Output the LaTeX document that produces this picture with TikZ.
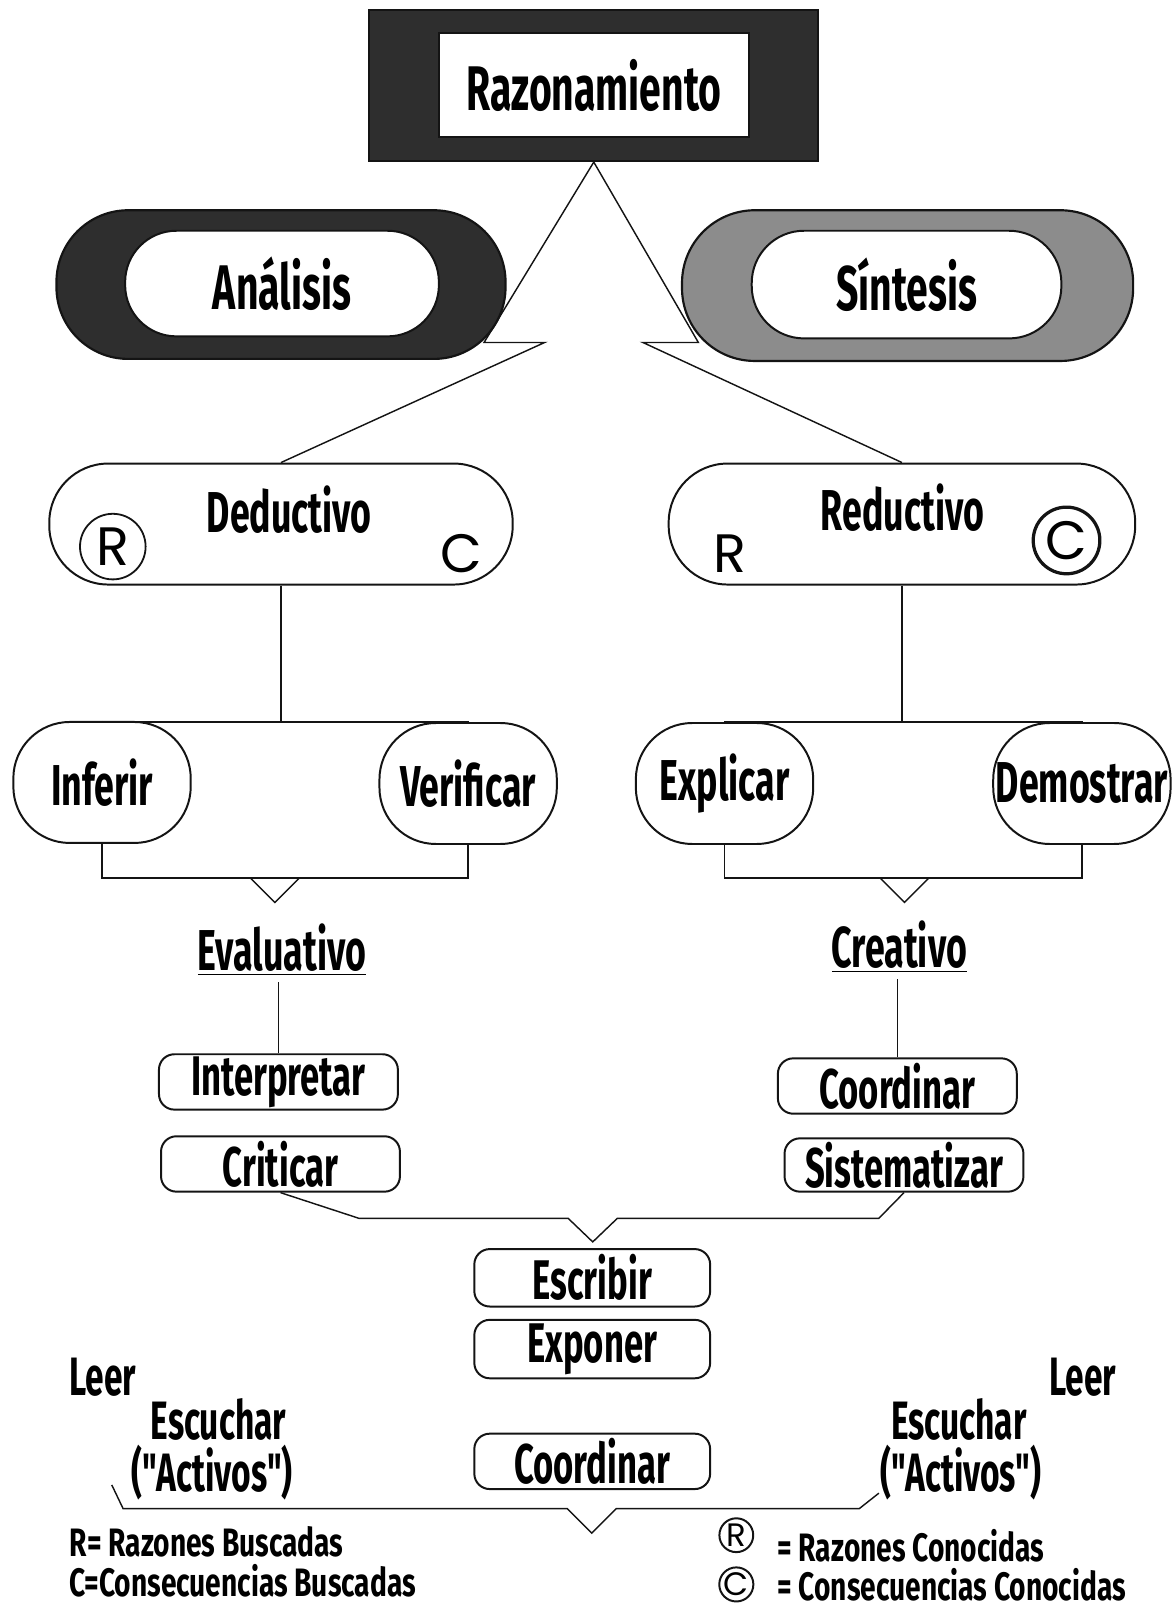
\documentclass[tikz,border=0pt]{standalone}
\usepackage{fontspec}
\setmainfont{Fira Sans}
\newfontfamily\condfont[FakeStretch=0.62]{Fira Sans}
\newfontfamily\legfont[FakeStretch=0.71]{Fira Sans}
\newfontfamily\letfont{Poppins}
\usetikzlibrary{calc}
\definecolor{inkblack}{HTML}{141414}
\definecolor{darkrim}{HTML}{2E2E2E}
\definecolor{greyrim}{HTML}{8C8C8C}

\newcommand\bigtxt{\condfont\bfseries\fontsize{35}{38}\selectfont}
\newcommand\midtxt{\condfont\bfseries\fontsize{32}{34}\selectfont}
\newcommand\pilltxt{\condfont\bfseries\fontsize{31}{33}\selectfont}
\newcommand\sidetxt{\condfont\bfseries\fontsize{30}{32}\selectfont}
\newcommand\smltxt{\legfont\bfseries\fontsize{22}{24}\selectfont}
\newcommand\lettxt{\letfont\fontsize{30}{32}\selectfont}

\tikzset{
  rim/.style={draw=inkblack, line width=1.2pt, inner sep=0pt},
  stadium/.style={draw=inkblack, line width=1.1pt, fill=white, inner sep=0pt},
  bulb/.style={stadium, minimum width=3.46cm, minimum height=2.36cm, rounded corners=1.1cm, font=\midtxt},
  pill/.style={stadium, minimum width=4.66cm, minimum height=1.08cm, rounded corners=0.3cm, font=\pilltxt},
  ring/.style={circle, draw=inkblack, inner sep=0pt, font=\lettxt},
  conn/.style={draw=inkblack, line width=0.8pt}
}

\begin{document}
\begin{tikzpicture}[x=0.02cm, y=-0.02cm]
\useasboundingbox (0,0) rectangle (1143,1568);

% Title block (Razonamiento)
\node[rim, fill=darkrim, minimum width=8.76cm, minimum height=2.94cm] (razon) at (579,83.5) {};
\node[stadium, minimum width=6.04cm, minimum height=2.04cm, font=\bigtxt] (razontxt) at (579,83) {Razonamiento};

% Analisis and Sintesis
\node[rim, fill=darkrim, minimum width=8.76cm, minimum height=2.90cm, rounded corners=1.4cm] (anal) at (274,277.5) {};
\node[stadium, minimum width=6.12cm, minimum height=2.06cm, rounded corners=1cm, font=\bigtxt] (analtxt) at (275,276.5) {Análisis};
\node[rim, fill=greyrim, minimum width=8.8cm, minimum height=2.94cm, rounded corners=1.42cm] (sint) at (885,278.5) {};
\node[stadium, minimum width=6.04cm, minimum height=2.10cm, rounded corners=1.02cm, font=\bigtxt] (sinttxt) at (884,277.5) {Síntesis};

% Deductivo and Reductivo
\node[stadium, minimum width=9.04cm, minimum height=2.36cm, rounded corners=1.15cm] (deduct) at (274,511) {};
\node[font=\midtxt] (deducttxt) at (282,497) {Deductivo};
\node[ring, line width=1pt, minimum size=1.28cm] (dedR) at (110,533) {R};
\node[font=\lettxt] (dedC) at (450,540) {C};
\node[stadium, minimum width=9.1cm, minimum height=2.36cm, rounded corners=1.15cm] (reduct) at (879.5,511) {};
\node[font=\midtxt] (reducttxt) at (880,495) {Reductivo};
\node[font=\lettxt] (redR) at (712,540) {R};
\node[ring, line width=1.8pt, minimum size=1.3cm] (redC) at (1040,527) {C};

% Lines from Razonamiento
\coordinate (kinkL) at (472,334);
\coordinate (kinkLb) at (531,334);
\coordinate (kinkR) at (681,334);
\coordinate (kinkRb) at (627,334);
\draw[conn] (razon.south) -- (kinkL) -- (kinkLb) -- (deduct.north);
\draw[conn] (razon.south) -- (kinkR) -- (kinkRb) -- (reduct.north);

% Four actions
\node[bulb] (inferir) at (99.5,763) {Inferir};
\node[bulb] (verif) at (456.5,764) {Verificar};
\node[bulb] (explic) at (706.5,764) {Explicar};
\node[bulb] (demos) at (1055,764) {Demostrar};

% Brackets
\draw[conn] (deduct.south) -- ++(0,133) coordinate (dedJ);
\draw[conn] (inferir.north) |- (dedJ) -| (verif.north);
\draw[conn] (reduct.south) -- ++(0,133) coordinate (redJ);
\draw[conn] (explic.north) |- (redJ) -| (demos.north);
\coordinate (evJ) at (268,856);
\coordinate (crJ) at (882,856);
\draw[conn] (inferir.south) |- (evJ) -| (verif.south);
\draw[conn] (explic.south) |- (crJ) -| (demos.south);
\draw[conn] ($(evJ)+(-24,0)$) -- ++(24,24) -- ++(24,-24);
\draw[conn] ($(crJ)+(-24,0)$) -- ++(24,24) -- ++(24,-24);

% Evaluativo and Creativo
\node[font=\midtxt] (evalu) at (275,926) {\underline{Evaluativo}};
\node[font=\midtxt] (creat) at (877,923) {\underline{Creativo}};

% Pills
\node[pill] (interp) at (271.5,1055) {Interpretar};
\node[pill] (critic) at (273.5,1135) {Criticar};
\node[pill] (coordA) at (875,1059) {Coordinar};
\node[pill, minimum height=1.04cm] (sistem) at (881.5,1136) {Sistematizar};
\draw[conn] (interp.north) -- (interp.north |- evalu.south);
\draw[conn] (coordA.north) -- (coordA.north |- creat.south);

% Merge into Escribir
\coordinate (mjL) at (350,1188);
\coordinate (mjR) at (857,1188);
\coordinate (mV) at (578,1211);
\draw[conn] (critic.south) -- (mjL) -- ($(mV)+(-24,-23)$) -- (mV) -- ($(mV)+(24,-23)$) -- (mjR) -- (sistem.south);

\node[pill, minimum width=4.6cm, minimum height=1.12cm] (escrib) at (577.5,1246) {Escribir};
\node[pill, minimum width=4.6cm, minimum height=1.14cm] (expon) at (577.5,1315.5) {Exponer};
\node[pill, minimum width=4.6cm] (coordB) at (577.5,1425) {Coordinar};

% Leer / Escuchar
\node[font=\sidetxt] (leerL) at (100,1343) {Leer};
\node[font=\sidetxt] (escuL) at (213,1384) {Escuchar};
\node[font=\sidetxt] (activL) at (207,1436) {("Activos")};
\node[font=\sidetxt] (leerR) at (1056,1343) {Leer};
\node[font=\sidetxt] (escuR) at (935,1384) {Escuchar};
\node[font=\sidetxt] (activR) at (937,1436) {("Activos")};

% Bottom bracket
\coordinate (lowL) at (109,1448);
\coordinate (lowLc) at (120,1471);
\coordinate (lowV) at (577,1495);
\coordinate (lowRc) at (838,1471);
\coordinate (lowR) at (857,1456);
\draw[conn] (lowL) -- (lowLc) -- ($(lowV)+(-24,-24)$) -- (lowV) -- ($(lowV)+(24,-24)$) -- (lowRc) -- (lowR);

% Legend
\node[font=\smltxt, anchor=west] (legRB) at (62,1503) {R= Razones Buscadas};
\node[font=\smltxt, anchor=west] (legCB) at (62,1541) {C=Consecuencias Buscadas};
\node[ring, line width=1.1pt, minimum size=0.66cm, font=\letfont\fontsize{18}{18}\selectfont] (legR) at (718,1497) {R};
\node[ring, line width=1.1pt, minimum size=0.66cm, font=\letfont\fontsize{18}{18}\selectfont] (legC) at (718,1545) {C};
\node[font=\smltxt, anchor=west] (legRC) at (752,1507) {= Razones Conocidas};
\node[font=\smltxt, anchor=west] (legCC) at (752,1545) {= Consecuencias Conocidas};
\end{tikzpicture}
\end{document}
